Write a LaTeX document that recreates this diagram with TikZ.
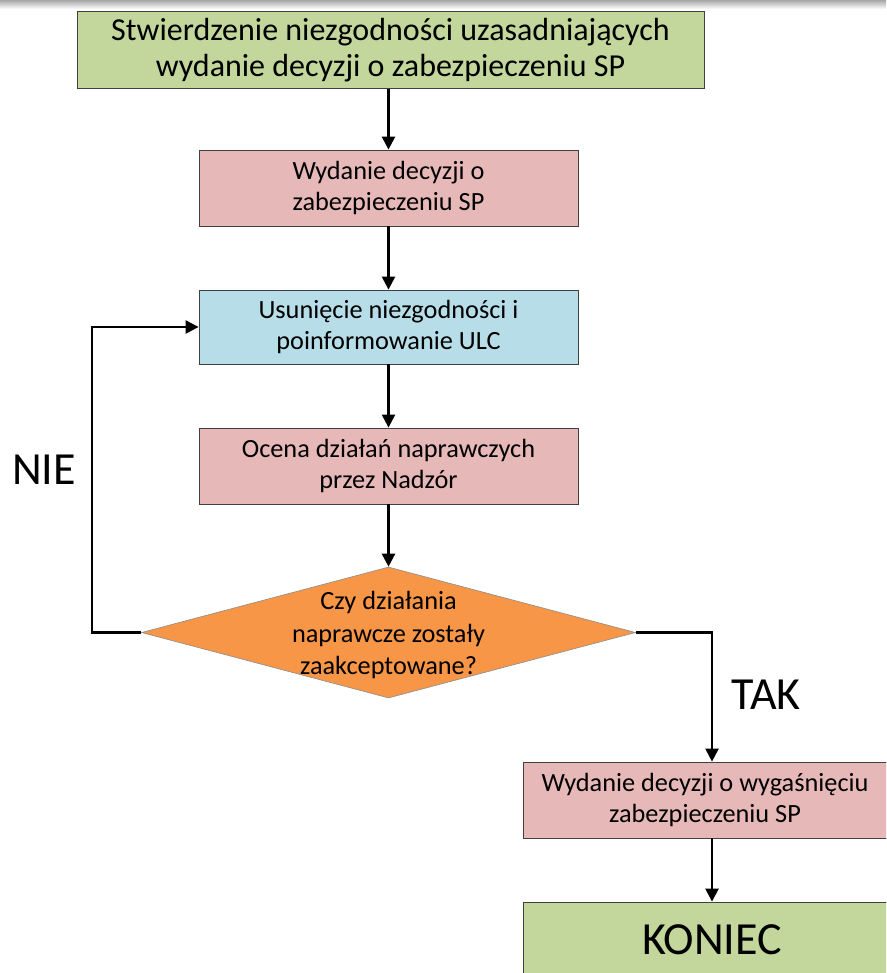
\documentclass[tikz,border=0pt]{standalone}
\usepackage{fontspec}
\setmainfont{Carlito}
\usetikzlibrary{arrows.meta,shapes.geometric}
\definecolor{cgreen}{HTML}{C3D69B}
\definecolor{cpink}{HTML}{E6B9B8}
\definecolor{cblue}{HTML}{B7DEE8}
\definecolor{corange}{HTML}{F79646}
\begin{document}
\begin{tikzpicture}[x=1pt,y=-1pt,
  box/.style={draw=black!75, line width=0.8pt, rectangle, inner sep=0pt, align=center,
    font=\fontsize{26.3}{31}\selectfont},
  dec/.style={draw=black!45, line width=0.6pt, diamond, inner sep=0pt, fill=corange},
  arr/.style={draw=black, line width=2.4pt, -{Triangle[length=13pt,width=13pt]}},
  lbl/.style={inner sep=0pt, font=\fontsize{46}{52}\selectfont}]
\useasboundingbox (0,0) rectangle (886,973);
\clip (0,0) rectangle (886,973);
\shade[top color=black!35, bottom color=white] (0,0) rectangle (886,9);

\node[box, fill=cgreen, minimum width=627pt, minimum height=77pt,
  font=\fontsize{32}{36}\selectfont] (b1) at (390.5,50)
  {Stwierdzenie niezgodności uzasadniających\\wydanie decyzji o zabezpieczeniu SP};
\node[box, fill=cpink, minimum width=379pt, minimum height=76pt] (b2) at (388.5,188)
  {Wydanie decyzji o\\zabezpieczeniu SP};
\node[box, fill=cblue, minimum width=379pt, minimum height=74pt] (b3) at (388.5,327)
  {Usunięcie niezgodności i\\poinformowanie ULC};
\node[box, fill=cpink, minimum width=379pt, minimum height=76pt] (b4) at (388.5,466)
  {Ocena działań naprawczych\\przez Nadzór};
\node[dec, minimum width=494pt, minimum height=131pt] (d) at (388.5,632.5) {};
\node[inner sep=0pt, align=center, font=\fontsize{26.3}{32.5}\selectfont] (dt) at (388.5,635)
  {Czy działania\\naprawcze zostały\\zaakceptowane?};
\node[box, fill=cpink, minimum width=364pt, minimum height=76pt] (b5) at (705,800)
  {Wydanie decyzji o wygaśnięciu\\zabezpieczeniu SP};
\node[box, fill=cgreen, minimum width=378pt, minimum height=76pt,
  font=\fontsize{46}{52}\selectfont] (b6) at (712,940) {KONIEC};

\node[lbl] (nie) at (44,470) {NIE};
\node[lbl] (tak) at (766,695) {TAK};

\coordinate (nl) at (92,632.5);
\coordinate (tr) at (712,632.5);

\draw[arr] (b2.north |- b1.south) -- (b2.north);
\draw[arr] (b2.south) -- (b3.north);
\draw[arr] (b3.south) -- (b4.north);
\draw[arr] (b4.south) -- (d.north);
\draw[arr] (d.west) -- (nl) -- (nl |- b3.west) -- (b3.west);
\draw[arr] (d.east) -- (tr) -- (tr |- b5.north);
\draw[arr] (tr |- b5.south) -- (tr |- b6.north);
\end{tikzpicture}
\end{document}
